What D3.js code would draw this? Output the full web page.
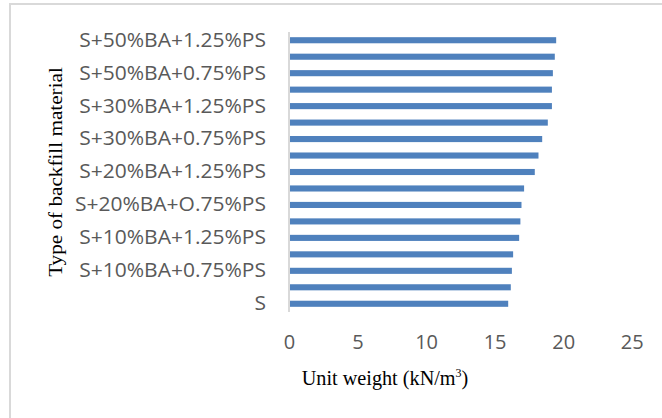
<!DOCTYPE html>
<html>
<head>
<meta charset="utf-8">
<script src="https://cdn.jsdelivr.net/npm/d3@7"></script>
<style>
  html, body { margin: 0; padding: 0; background: #fff; }
  svg { display: block; }
</style>
</head>
<body>
<svg id="chart" width="662" height="418"></svg>
<script>
// Backfill mixes, bottom to top; the axis shows every other label
const categories = [
  "S",
  "S+10%BA",
  "S+10%BA+0.75%PS",
  "S+10%BA+1%PS",
  "S+10%BA+1.25%PS",
  "S+20%BA",
  "S+20%BA+O.75%PS",
  "S+20%BA+1%PS",
  "S+20%BA+1.25%PS",
  "S+30%BA",
  "S+30%BA+0.75%PS",
  "S+30%BA+1%PS",
  "S+30%BA+1.25%PS",
  "S+50%BA",
  "S+50%BA+0.75%PS",
  "S+50%BA+1%PS",
  "S+50%BA+1.25%PS"
];

// Unit weight, kN/m³
const unitWeight = [
  15.99, 16.18, 16.26, 16.35, 16.79, 16.88, 16.96, 17.15, 17.93,
  18.20, 18.47, 18.88, 19.18, 19.18, 19.25, 19.39, 19.49
];

const xTicks = [0, 5, 10, 15, 20, 25];

const svg = d3.select("#chart");
const tickFont = "'Open Sans', Lato, sans-serif";
const titleFont = "'Liberation Serif', 'Times New Roman', serif";

// outer chart-area frame
svg.append("rect")
  .attr("x", 10).attr("y", 4)
  .attr("width", 700).attr("height", 500)
  .attr("fill", "none")
  .attr("stroke", "#d9d9d9")
  .attr("stroke-width", 2);

const plot = { left: 289, right: 631.7, top: 32, bottom: 312 };

const x = d3.scaleLinear().domain([0, 25]).range([plot.left, plot.right]);
const y = d3.scaleBand()
  .domain(categories.slice().reverse())
  .range([plot.top, plot.bottom])
  .paddingInner(0.63)
  .paddingOuter(0.315);

// bars
svg.append("g")
  .selectAll("rect")
  .data(categories.map((c, i) => ({ c, v: unitWeight[i] })))
  .join("rect")
  .attr("x", x(0) + 1)
  .attr("y", d => y(d.c))
  .attr("width", d => x(d.v) - x(0) - 1)
  .attr("height", y.bandwidth())
  .attr("fill", "#4f81bd");

// stretch or squeeze text horizontally by factor k
function fitWidth(sel, k) {
  sel.each(function () {
    const w = this.getComputedTextLength();
    if (w > 0) {
      d3.select(this)
        .attr("textLength", w * k)
        .attr("lengthAdjust", "spacingAndGlyphs");
    }
  });
}

// category axis
const yAxis = d3.axisLeft(y)
  .tickSize(0)
  .tickPadding(23)
  .tickFormat(d => categories.indexOf(d) % 2 === 0 ? d : "");

const gy = svg.append("g")
  .attr("transform", `translate(${plot.left},0)`)
  .call(yAxis);
gy.select(".domain").remove();
gy.selectAll("text")
  .attr("fill", "#595959")
  .style("font-family", tickFont)
  .style("font-size", "20px")
  .call(fitWidth, 1.05);

svg.append("line")
  .attr("x1", plot.left).attr("x2", plot.left)
  .attr("y1", plot.top).attr("y2", plot.bottom)
  .attr("stroke", "#d9d9d9")
  .attr("stroke-width", 2);

// value axis (labels only)
const xAxis = d3.axisBottom(x)
  .tickValues(xTicks)
  .tickSize(0)
  .tickPadding(22.8);
const gx = svg.append("g")
  .attr("transform", `translate(0,${plot.bottom})`)
  .call(xAxis);
gx.select(".domain").remove();
gx.selectAll("text")
  .attr("fill", "#595959")
  .style("font-family", tickFont)
  .style("font-size", "20px");

// axis titles
const xt = svg.append("text")
  .attr("transform", "translate(385,385) scale(0.92,1)")
  .attr("text-anchor", "middle")
  .style("font-family", titleFont)
  .style("font-size", "22px")
  .attr("fill", "#000");
xt.append("tspan").text("Unit weight (kN/m");
xt.append("tspan").attr("dy", -8).style("font-size", "13px").text("3");
xt.append("tspan").attr("dy", 8).text(")");

svg.append("text")
  .attr("transform", "translate(62,172) scale(0.88,1) rotate(-90)")
  .attr("text-anchor", "middle")
  .style("font-family", titleFont)
  .style("font-size", "21.2px")
  .attr("fill", "#000")
  .text("Type of backfill material");
</script>
</body>
</html>
